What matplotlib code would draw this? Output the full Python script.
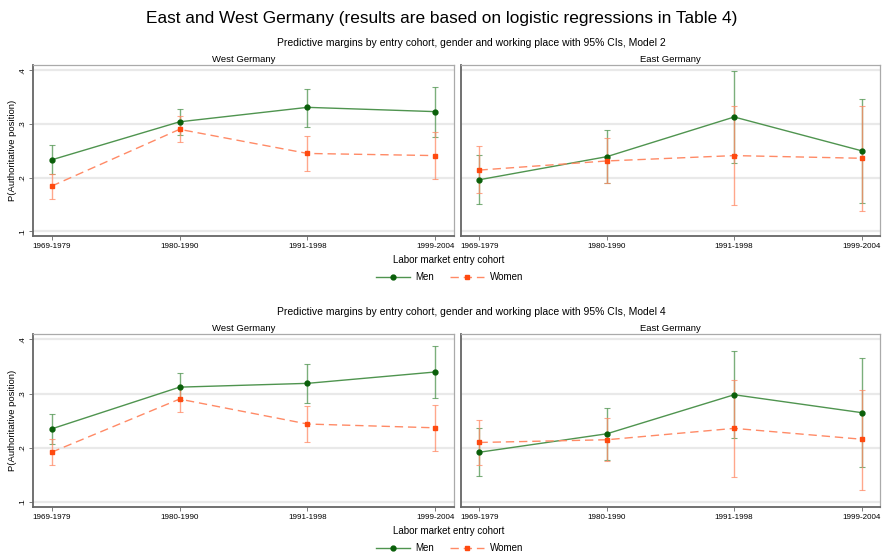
#!/usr/bin/env python
import matplotlib
matplotlib.use("Agg")
import matplotlib.pyplot as plt
import numpy as np

plt.rcParams['font.family'] = ['Liberation Sans', 'DejaVu Sans']

cohorts = ["1969-1979", "1980-1990", "1991-1998", "1999-2004"]
yticks = [0.1, 0.2, 0.3, 0.4]
ytick_labels = [".1", ".2", ".3", ".4"]

# Model 2
m2_west_men = [0.233, 0.304, 0.331, 0.323]
m2_west_men_lo = [0.206, 0.279, 0.294, 0.275]
m2_west_men_hi = [0.261, 0.328, 0.366, 0.369]
m2_west_women = [0.184, 0.290, 0.245, 0.241]
m2_west_women_lo = [0.160, 0.267, 0.212, 0.198]
m2_west_women_hi = [0.207, 0.314, 0.277, 0.285]

m2_east_men = [0.196, 0.239, 0.313, 0.250]
m2_east_men_lo = [0.151, 0.190, 0.228, 0.152]
m2_east_men_hi = [0.242, 0.288, 0.398, 0.347]
m2_east_women = [0.214, 0.231, 0.241, 0.236]
m2_east_women_lo = [0.171, 0.189, 0.149, 0.137]
m2_east_women_hi = [0.258, 0.273, 0.333, 0.334]

# Model 4
m4_west_men = [0.235, 0.312, 0.319, 0.340]
m4_west_men_lo = [0.207, 0.288, 0.282, 0.292]
m4_west_men_hi = [0.263, 0.338, 0.355, 0.388]
m4_west_women = [0.192, 0.290, 0.244, 0.237]
m4_west_women_lo = [0.169, 0.266, 0.211, 0.194]
m4_west_women_hi = [0.216, 0.313, 0.278, 0.280]

m4_east_men = [0.192, 0.226, 0.298, 0.265]
m4_east_men_lo = [0.149, 0.178, 0.218, 0.165]
m4_east_men_hi = [0.236, 0.273, 0.379, 0.365]
m4_east_women = [0.210, 0.215, 0.236, 0.216]
m4_east_women_lo = [0.168, 0.175, 0.146, 0.123]
m4_east_women_hi = [0.252, 0.256, 0.326, 0.307]

men_line = '#4f944f'
men_mark = '#0a5f0a'
women_line = '#ff8a66'
women_mark = '#ff4a10'

W, H = 883, 556


def rect(x0, y0, x1, y1):
    return [x0 / W, 1 - y1 / H, (x1 - x0) / W, (y1 - y0) / H]


def panel(ax, men, men_lo, men_hi, women, women_lo, women_hi, title, ylab):
    x = np.arange(len(cohorts))
    for yt in yticks:
        ax.axhline(yt, color='#e9e9e9', lw=1.6, zorder=0)
    ax.errorbar(x, men, yerr=[np.subtract(men, men_lo), np.subtract(men_hi, men)],
                fmt='none', ecolor=men_line, elinewidth=1.0, capsize=2, capthick=0.8,
                alpha=0.75, zorder=2)
    ax.errorbar(x, women, yerr=[np.subtract(women, women_lo), np.subtract(women_hi, women)],
                fmt='none', ecolor=women_line, elinewidth=1.0, capsize=2, capthick=0.8,
                alpha=0.75, zorder=2)
    ax.plot(x, men, color=men_line, lw=1.0, marker='o', ms=3.5,
            mfc=men_mark, mec=men_mark, zorder=3, label='Men')
    ax.plot(x, women, color=women_line, lw=1.0, ls=(0, (6, 3.5)), marker='s', ms=3.5,
            mfc=women_mark, mec=women_mark, zorder=3, label='Women')
    ax.set_xlim(-0.145, 3.145)
    ax.set_ylim(0.091, 0.41)
    ax.set_xticks(x)
    ax.set_xticklabels(cohorts, fontsize=5.8)
    ax.set_yticks(yticks)
    if ylab:
        ax.set_yticklabels(ytick_labels, fontsize=5.8, rotation=90, va='center')
        ax.set_ylabel("P(Authoritative position)", fontsize=6.8)
        ax.yaxis.set_label_coords(-16 / 421, 0.5)
    else:
        ax.tick_params(axis='y', left=False, labelleft=False)
    ax.tick_params(direction='out', length=3, width=0.6, color='#666666', pad=2)
    for s in ['top', 'right']:
        ax.spines[s].set_color('#aaaaaa')
        ax.spines[s].set_linewidth(0.9)
    for s in ['left', 'bottom']:
        ax.spines[s].set_color('#666666')
        ax.spines[s].set_linewidth(1.3)
    ax.set_title(title, fontsize=6.8, pad=2)


fig = plt.figure(figsize=(W / 100, H / 100), dpi=100)
fig.text(0.5, 1 - 18 / H, "East and West Germany (results are based on logistic regressions in Table 4)",
         ha='center', va='center', fontsize=12.4)

blocks = [
    (65, 236, "Model 2",
     (m2_west_men, m2_west_men_lo, m2_west_men_hi, m2_west_women, m2_west_women_lo, m2_west_women_hi),
     (m2_east_men, m2_east_men_lo, m2_east_men_hi, m2_east_women, m2_east_women_lo, m2_east_women_hi)),
    (334, 507, "Model 4",
     (m4_west_men, m4_west_men_lo, m4_west_men_hi, m4_west_women, m4_west_women_lo, m4_west_women_hi),
     (m4_east_men, m4_east_men_lo, m4_east_men_hi, m4_east_women, m4_east_women_lo, m4_east_women_hi)),
]

for top, bot, model, west, east in blocks:
    fig.text(471 / W, 1 - (top - 22) / H,
             "Predictive margins by entry cohort, gender and working place with 95% CIs, " + model,
             ha='center', va='center', fontsize=7.5)
    axw = fig.add_axes(rect(33, top, 454, bot))
    panel(axw, *west, "West Germany", True)
    axe = fig.add_axes(rect(461, top, 880, bot))
    panel(axe, *east, "East Germany", False)
    fig.text(0.508, 1 - (bot + 24) / H, "Labor market entry cohort",
             ha='center', va='center', fontsize=7)
    handles, labels = axw.get_legend_handles_labels()
    fig.legend(handles, labels, loc='center', bbox_to_anchor=(0.509, 1 - (bot + 41) / H),
               ncol=2, frameon=False, fontsize=7, handlelength=3.5, columnspacing=1.6,
               handletextpad=0.6)

fig.savefig('out.png', dpi=100)
